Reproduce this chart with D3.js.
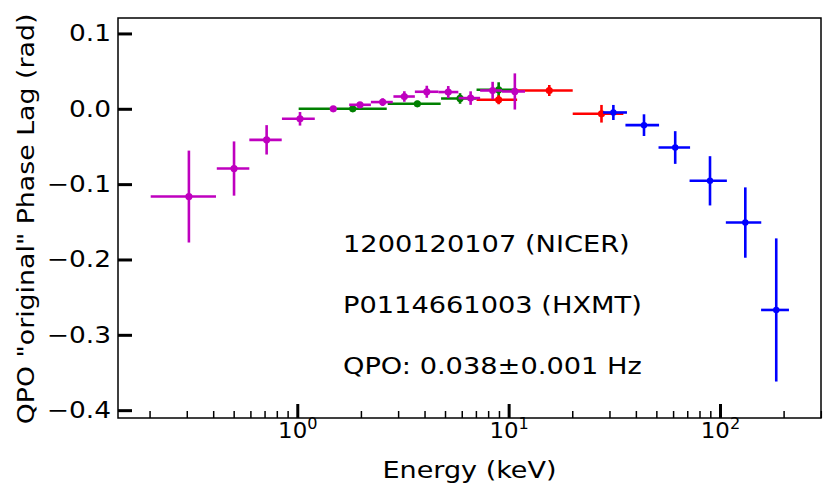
<!DOCTYPE html>
<html><head><meta charset="utf-8">
<script src="https://cdn.jsdelivr.net/npm/d3@7"></script>
<style>
html,body{margin:0;padding:0;background:#fff;}
svg{display:block;font-family:"DejaVu Sans",sans-serif;}
</style></head>
<body><svg id="c" width="833" height="498"></svg>
<script>
// ---- data ----
const magentaE   = [0.307, 0.502, 0.716, 1.03, 1.48, 1.98, 2.535, 3.21, 4.10, 5.18, 6.61, 8.40, 10.7];
const magentaLag = [-0.1165, -0.0793, -0.0412, -0.0133, 0.0, 0.0053, 0.0089, 0.0163, 0.0226, 0.0222, 0.0142, 0.0243, 0.023];
const magentaErr = [0.061, 0.036, 0.0195, 0.009, 0.002, 0.003, 0.005, 0.007, 0.008, 0.008, 0.009, 0.0115, 0.024];
const magentaLo  = [0.2025, 0.416, 0.593, 0.846, 1.48, 1.76, 2.23, 2.85, 3.6, 4.65, 5.8, 7.33, 9.3];
const magentaHi  = [0.4124, 0.593, 0.844, 1.21, 1.48, 2.23, 2.83, 3.6, 4.65, 5.78, 7.33, 9.3, 11.95];

const greenE   = [1.83, 3.70, 5.89, 8.97];
const greenLag = [0.0, 0.0066, 0.0137, 0.0252];
const greenErr = [0.002, 0.004, 0.007, 0.01];
const greenLo  = [1.015, 2.68, 4.79, 7.05];
const greenHi  = [2.65, 4.77, 7.05, 10.5];

const redE   = [8.97, 15.57, 27.5];
const redLag = [0.012, 0.0243, -0.0066];
const redErr = [0.006, 0.0073, 0.0117];
const redLo  = [7.05, 10.97, 20.1];
const redHi  = [10.97, 20.1, 34.9];

const blueE   = [31.3, 43.7, 61.4, 89.7, 131.8, 184.6];
const blueLag = [-0.0049, -0.0217, -0.0514, -0.0956, -0.151, -0.267];
const blueErr = [0.01, 0.0144, 0.0217, 0.0327, 0.0467, 0.095];
const blueLo  = [28.0, 35.7, 51.2, 71.8, 106.6, 156.5];
const blueHi  = [36.3, 51.5, 72.2, 107.8, 156.8, 212];

const yTicks = [0.1, 0.0, -0.1, -0.2, -0.3, -0.4];
const xMajor = [1, 10, 100];
const xExp   = ["0", "1", "2"];
const annotations = ["1200120107 (NICER)", "P0114661003 (HXMT)", "QPO: 0.038\u00B10.001 Hz"];
const xLabel = "Energy (keV)";
const yLabel = "QPO \"original\" Phase Lag (rad)";

// ---- layout ----
const L = 118, R = 821, T = 18, B = 418;
const SX = 1.15; // horizontal glyph stretch seen in the reference text
const svg = d3.select("#c");
const x = d3.scaleLog().domain([0.1418, 300.6]).range([L, R]);
const y = d3.scaleLinear().domain([-0.4104, 0.1205]).range([B, T]);

const xMinor = [];
[0.1, 1, 10, 100].forEach(d => { for (let k = 2; k <= 9; k++) { const v = d * k; if (v > 0.1418 && v < 300.6) xMinor.push(v); } });

// minor x ticks
svg.append("g").attr("transform", `translate(0,${B})`)
  .call(d3.axisBottom(x).tickValues(xMinor).tickSize(-7).tickFormat(""))
  .call(g => { g.select(".domain").remove(); g.selectAll("line").attr("stroke", "#000").attr("stroke-width", 1.5); });

// major x ticks
const gx = svg.append("g").attr("transform", `translate(0,${B})`)
  .call(d3.axisBottom(x).tickValues(xMajor).tickSize(-14).tickFormat(d => ""))
  .call(g => { g.select(".domain").remove(); g.selectAll("line").attr("stroke", "#000").attr("stroke-width", 3); });
gx.selectAll(".tick").each(function(d, i) {
  const t = d3.select(this).select("text").attr("x", 0).attr("y", 20).attr("dy", null)
    .attr("font-size", 22).attr("fill", "#000").attr("text-anchor", "middle").attr("font-family", "DejaVu Sans")
    .attr("transform", "scale(1.04,1)");
  t.text(null);
  t.append("tspan").text("10");
  t.append("tspan").attr("dy", -9).attr("font-size", 15.5).text(xExp[i]);
});

// y ticks
svg.append("g").attr("transform", `translate(${L},0)`)
  .call(d3.axisLeft(y).tickValues(yTicks).tickSize(-14)
    .tickFormat(d => d3.format(".1f")(d).replace("-", "\u2212")))
  .call(g => {
    g.select(".domain").remove();
    g.selectAll("line").attr("stroke", "#000").attr("stroke-width", 3);
    g.selectAll("text").attr("font-size", 23).attr("fill", "#000").attr("font-family", "DejaVu Sans")
      .attr("x", -7 / SX).attr("transform", `scale(${SX},1)`);
  });

// frame
svg.append("rect").attr("x", L).attr("y", T).attr("width", R - L).attr("height", B - T)
  .attr("fill", "none").attr("stroke", "#000").attr("stroke-width", 1.5);

// error-bar series
function series(E, lag, err, lo, hi, color, r) {
  const data = E.map((e, i) => ({ e, v: lag[i], err: err[i], lo: lo[i], hi: hi[i] }));
  const g = svg.append("g");
  g.selectAll(".h").data(data).enter().append("line")
    .attr("x1", d => x(d.lo)).attr("x2", d => x(d.hi))
    .attr("y1", d => y(d.v)).attr("y2", d => y(d.v))
    .attr("stroke", color).attr("stroke-width", 2.6);
  g.selectAll(".v").data(data).enter().append("line")
    .attr("x1", d => x(d.e)).attr("x2", d => x(d.e))
    .attr("y1", d => y(d.v - d.err)).attr("y2", d => y(d.v + d.err))
    .attr("stroke", color).attr("stroke-width", 2.6);
  g.selectAll("circle").data(data).enter().append("circle")
    .attr("cx", d => x(d.e)).attr("cy", d => y(d.v)).attr("r", r).attr("fill", color);
}
series(greenE, greenLag, greenErr, greenLo, greenHi, "#008000", 3.6);
series(redE, redLag, redErr, redLo, redHi, "#ff0000", 3.6);
series(blueE, blueLag, blueErr, blueLo, blueHi, "#0000ff", 3.2);
series(magentaE, magentaLag, magentaErr, magentaLo, magentaHi, "#bf00bf", 3.6);

// annotations
const annY = [252.3, 313, 373.5];
svg.selectAll(".ann").data(annotations).enter().append("text")
  .attr("transform", (d, i) => `translate(343,${annY[i]}) scale(${SX},1)`)
  .attr("font-size", 23.7).attr("fill", "#000").text(d => d);

// axis labels
svg.append("text").attr("transform", `translate(${(L + R) / 2},477.5) scale(${SX},1)`).attr("text-anchor", "middle")
  .attr("font-size", 23.5).attr("fill", "#000").text(xLabel);
svg.append("text").attr("transform", `translate(34,219) rotate(-90) scale(${SX},1)`).attr("text-anchor", "middle")
  .attr("font-size", 23.3).attr("fill", "#000").text(yLabel);
</script></body></html>
